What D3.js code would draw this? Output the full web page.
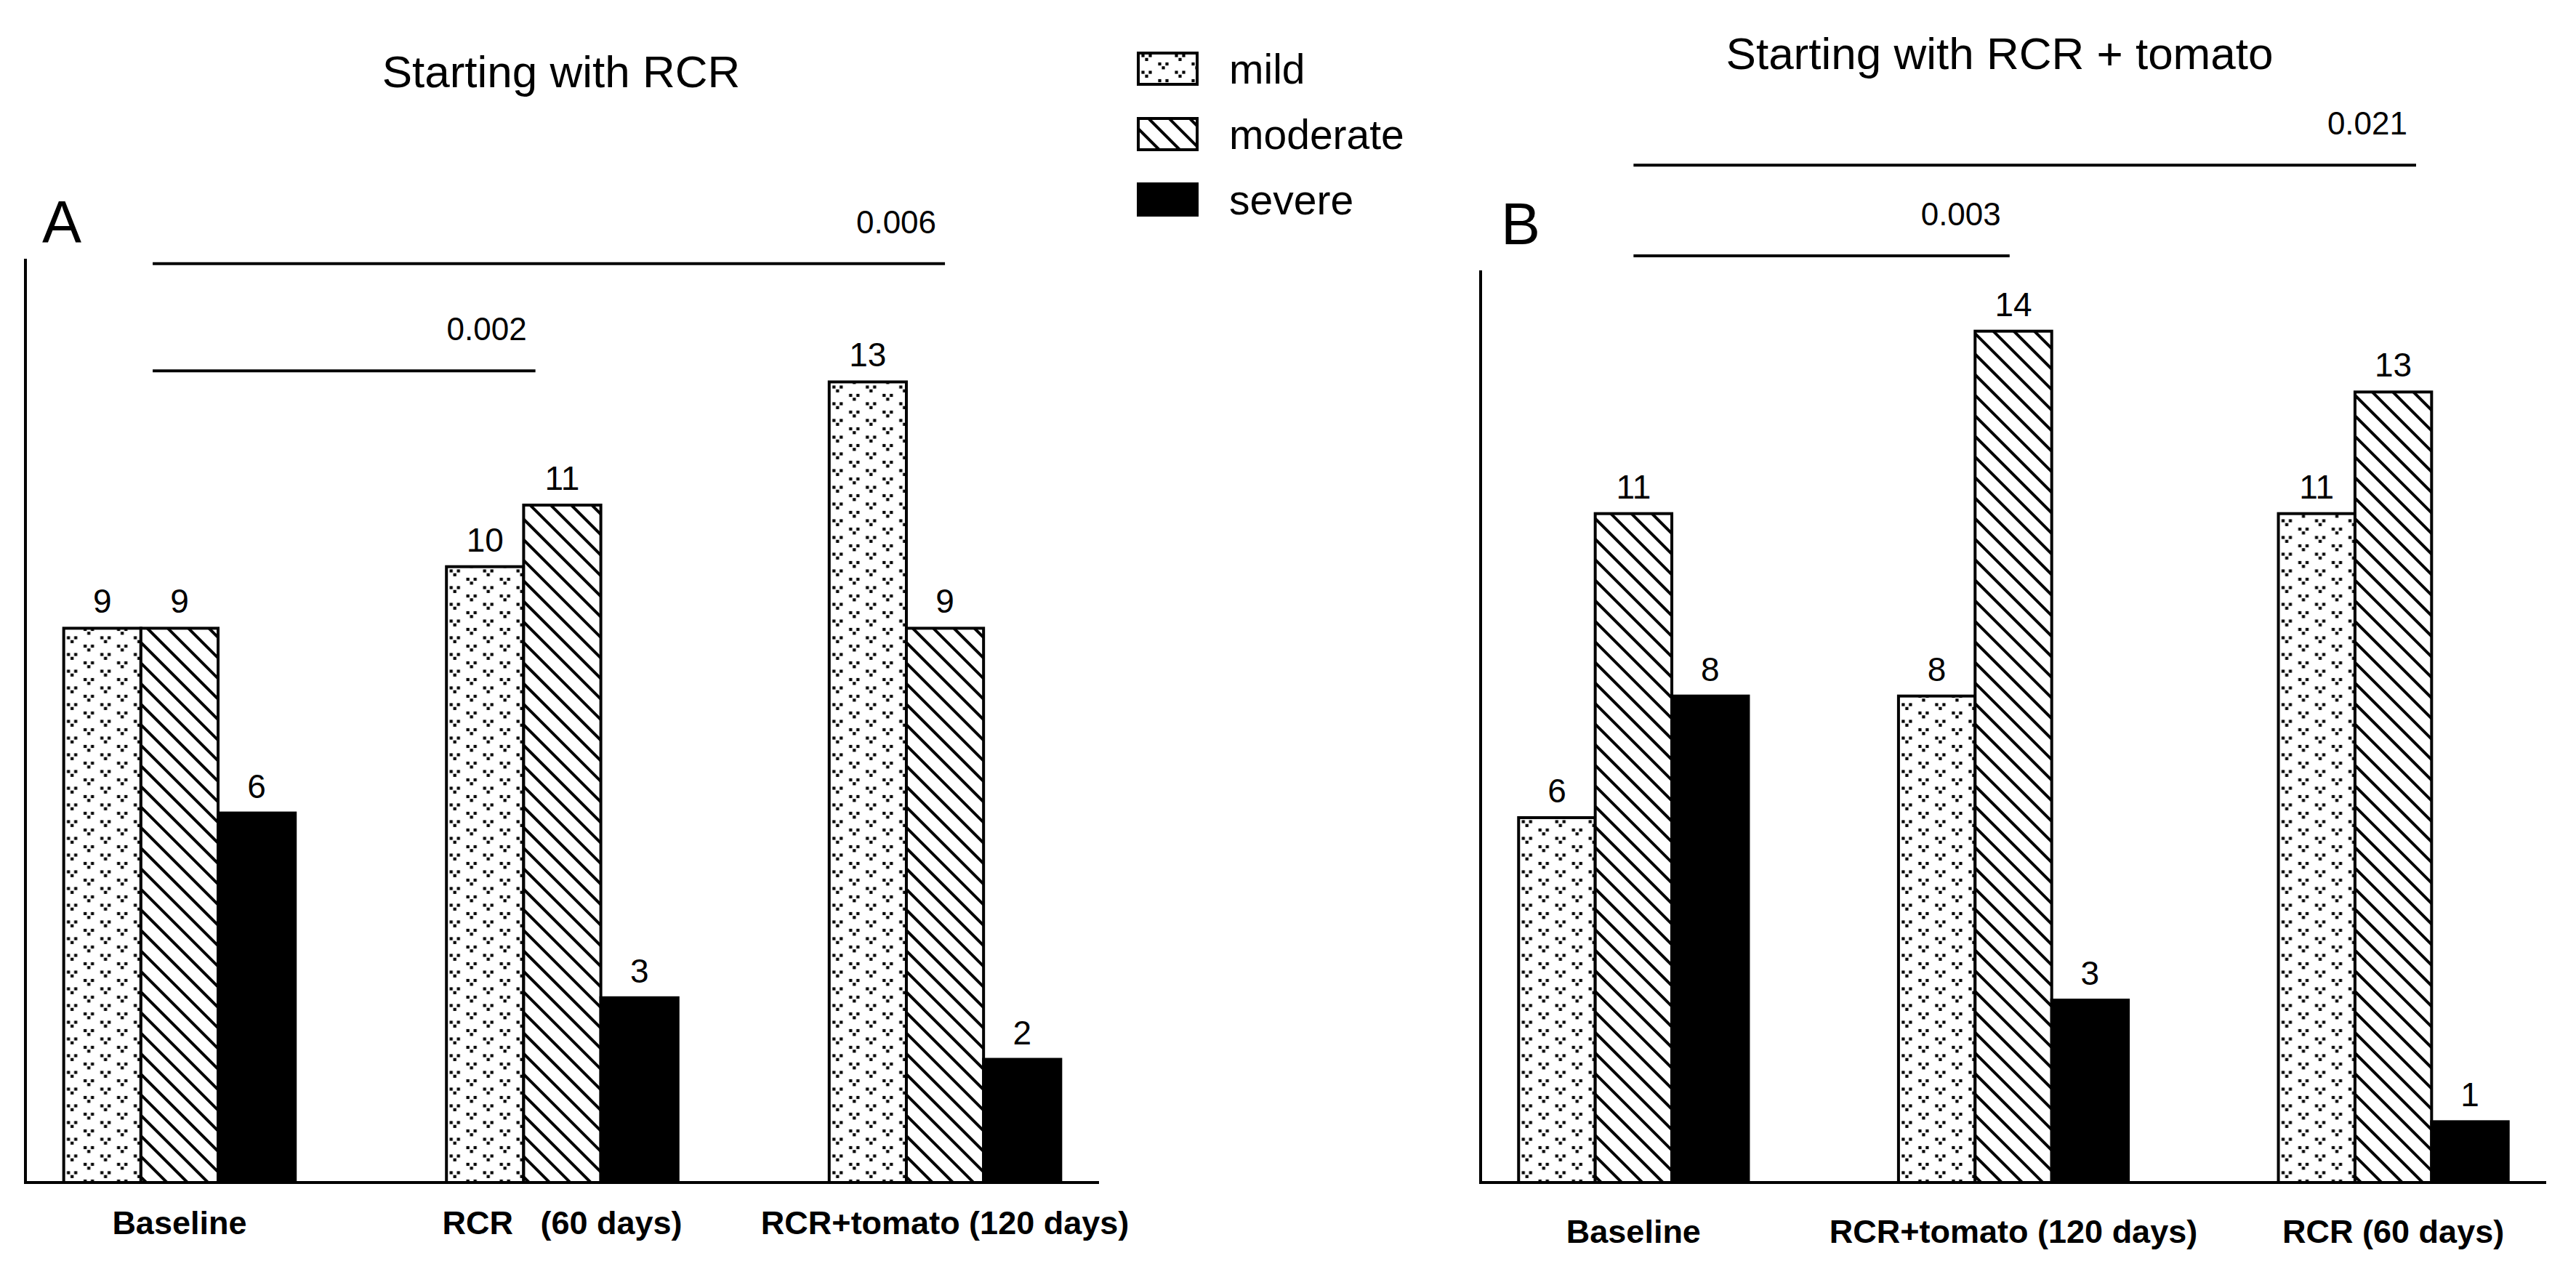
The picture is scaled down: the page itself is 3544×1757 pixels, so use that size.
<!DOCTYPE html>
<html>
<head>
<meta charset="utf-8">
<script src="https://cdn.jsdelivr.net/npm/d3@7/dist/d3.min.js"></script>
<style>
  html, body { margin: 0; padding: 0; background: #fff; }
  svg { display: block; font-family: "Liberation Sans", Arial, Helvetica, sans-serif; }
  text { white-space: pre; }
</style>
</head>
<body>
<svg id="chart" width="3544" height="1757"></svg>
<script>
// ---------------- data ----------------
const seriesNames = ["mild", "moderate", "severe"];

const titleA = "Starting with RCR";
const categoriesA = ["Baseline", "RCR   (60 days)", "RCR+tomato (120 days)"];
const mildA = [9, 10, 13];
const moderateA = [9, 11, 9];
const severeA = [6, 3, 2];
// significance brackets: from/to in group-index units, level in value units
const bracketsA = [
  { from: -0.07, to: 0.93, level: 13.18, p: "0.002" },
  { from: -0.07, to: 2.0, level: 14.92, p: "0.006" }
];

const titleB = "Starting with RCR + tomato";
const categoriesB = ["Baseline", "RCR+tomato (120 days)", "RCR (60 days)"];
const mildB = [6, 8, 11];
const moderateB = [11, 14, 13];
const severeB = [8, 3, 1];
const bracketsB = [
  { from: 0.0, to: 0.99, level: 15.24, p: "0.003" },
  { from: 0.0, to: 2.06, level: 16.73, p: "0.021" }
];

const yMax = 15;

// ---------------- drawing ----------------
const svg = d3.select("#chart");
const defs = svg.append("defs");

// mild: dotted "v" pattern
const pm = defs.append("pattern")
  .attr("id", "pat-mild").attr("patternUnits", "userSpaceOnUse")
  .attr("width", 46).attr("height", 23);
pm.append("rect").attr("width", 46).attr("height", 23).attr("fill", "#fff");
[[11.5, 6], [34.5, 17.5]].forEach(([cx, cy]) => {
  [[-5, -2.5], [5, -2.5], [0, 2.8]].forEach(([dx, dy]) => {
    pm.append("rect").attr("x", cx + dx - 2.1).attr("y", cy + dy - 2.1)
      .attr("width", 4.2).attr("height", 4.2).attr("fill", "#000");
  });
});

// moderate: diagonal "\" hatch
const ph = defs.append("pattern")
  .attr("id", "pat-moderate").attr("patternUnits", "userSpaceOnUse")
  .attr("width", 20).attr("height", 20)
  .attr("patternTransform", "rotate(45)");
ph.append("rect").attr("width", 20).attr("height", 20).attr("fill", "#fff");
ph.append("rect").attr("x", 0).attr("y", 8).attr("width", 20).attr("height", 4).attr("fill", "#000");

const fills = { mild: "url(#pat-mild)", moderate: "url(#pat-moderate)", severe: "#000" };

function drawPanel(cfg) {
  const g = svg.append("g");
  const x0 = d3.scaleBand().domain(cfg.categories)
    .range([cfg.left, cfg.right]).paddingInner(0.395).paddingOuter(0.1);
  const x1 = d3.scaleBand().domain(seriesNames).range([0, x0.bandwidth()]).padding(0);
  const y = d3.scaleLinear().domain([0, yMax]).range([cfg.bottom, cfg.top]);
  const xi = d3.scaleLinear().domain([0, cfg.categories.length - 1])
    .range([x0(cfg.categories[0]) + x0.bandwidth() / 2,
            x0(cfg.categories[cfg.categories.length - 1]) + x0.bandwidth() / 2]);

  const rows = cfg.categories.map((c, i) => ({
    cat: c,
    vals: seriesNames.map(s => ({ key: s, value: cfg.series[s][i] }))
  }));

  // bars
  const grp = g.selectAll("g.grp").data(rows).join("g")
    .attr("transform", d => `translate(${x0(d.cat)},0)`);
  grp.selectAll("rect").data(d => d.vals).join("rect")
    .attr("x", d => x1(d.key))
    .attr("y", d => y(d.value))
    .attr("width", x1.bandwidth())
    .attr("height", d => y(0) - y(d.value))
    .attr("fill", d => fills[d.key])
    .attr("stroke", "#000").attr("stroke-width", 4);
  grp.selectAll("text").data(d => d.vals).join("text")
    .attr("x", d => x1(d.key) + x1.bandwidth() / 2)
    .attr("y", d => y(d.value) - 21)
    .attr("text-anchor", "middle")
    .attr("font-size", 46)
    .text(d => d.value);

  // axes
  g.append("line").attr("x1", cfg.left).attr("x2", cfg.left)
    .attr("y1", cfg.top).attr("y2", cfg.bottom + 2)
    .attr("stroke", "#000").attr("stroke-width", 4);
  g.append("line").attr("x1", cfg.left - 2).attr("x2", cfg.right)
    .attr("y1", cfg.bottom).attr("y2", cfg.bottom)
    .attr("stroke", "#000").attr("stroke-width", 4);

  // category labels
  g.selectAll("text.cat").data(cfg.categories).join("text")
    .attr("class", "cat")
    .attr("x", d => x0(d) + x0.bandwidth() / 2)
    .attr("y", cfg.labelY)
    .attr("text-anchor", "middle")
    .attr("font-size", 45).attr("font-weight", "bold")
    .text(d => d);

  // brackets
  g.selectAll("line.br").data(cfg.brackets).join("line")
    .attr("class", "br")
    .attr("x1", d => xi(d.from)).attr("x2", d => xi(d.to))
    .attr("y1", d => y(d.level)).attr("y2", d => y(d.level))
    .attr("stroke", "#000").attr("stroke-width", 4);
  g.selectAll("text.br").data(cfg.brackets).join("text")
    .attr("class", "br")
    .attr("x", d => xi(d.to) - 12)
    .attr("y", d => y(d.level) - 42)
    .attr("text-anchor", "end")
    .attr("font-size", 44)
    .text(d => d.p);

  // title & panel letter
  g.append("text").attr("x", cfg.titleX).attr("y", cfg.titleY)
    .attr("text-anchor", "middle").attr("font-size", 62).text(cfg.title);
  g.append("text").attr("x", cfg.letterX).attr("y", cfg.letterY)
    .attr("font-size", 81).text(cfg.letter);
}

drawPanel({
  categories: categoriesA,
  series: { mild: mildA, moderate: moderateA, severe: severeA },
  brackets: bracketsA,
  title: titleA, letter: "A",
  left: 35, right: 1512, top: 356, bottom: 1627,
  labelY: 1698, titleX: 772, titleY: 120, letterX: 58, letterY: 333
});

drawPanel({
  categories: categoriesB,
  series: { mild: mildB, moderate: moderateB, severe: severeB },
  brackets: bracketsB,
  title: titleB, letter: "B",
  left: 2037, right: 3503, top: 372, bottom: 1627,
  labelY: 1710, titleX: 2751, titleY: 95, letterX: 2065, letterY: 336
});

// legend
const legend = svg.append("g").attr("transform", "translate(1566,73)");
const li = legend.selectAll("g").data(seriesNames).join("g")
  .attr("transform", (d, i) => `translate(0,${i * 90})`);
li.append("rect").attr("width", 81).attr("height", 43)
  .attr("fill", d => fills[d]).attr("stroke", "#000").attr("stroke-width", 4);
li.append("text").attr("x", 125).attr("y", 42)
  .attr("font-size", 57).text(d => d);
</script>
</body>
</html>
